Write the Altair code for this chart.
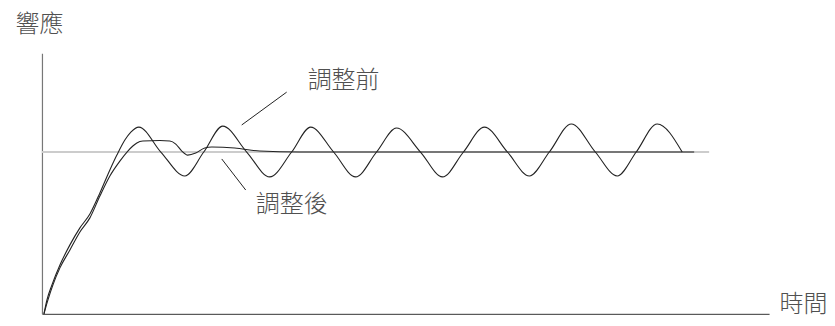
import altair as alt
import pandas as pd

# ---- data (time units, response units; setpoint = 1.0) ----
before_t = [0.02, 0.05, 0.10, 0.18, 0.28, 0.38, 0.48, 0.58, 0.68, 0.75, 0.83, 0.89, 0.97,
            1.19, 1.43, 1.62, 1.81, 2.05, 2.28, 2.50, 2.69, 2.92, 3.14, 3.35, 3.55,
            3.79, 4.01, 4.22, 4.43, 4.66, 4.88, 5.08, 5.30, 5.54, 5.76, 5.95, 6.16, 6.41]
before_y = [0.0, 0.086, 0.179, 0.302, 0.426, 0.531, 0.617, 0.747, 0.889, 0.981, 1.074, 1.123, 1.154,
            1.0, 0.852, 1.0, 1.160, 1.0, 0.846, 1.0, 1.154, 1.0, 0.846, 1.0, 1.148,
            1.0, 0.846, 1.0, 1.154, 1.0, 0.852, 1.0, 1.173, 1.0, 0.852, 1.0, 1.173, 1.0]

after_t = [0.02, 0.06, 0.11, 0.18, 0.28, 0.38, 0.48, 0.58, 0.68, 0.78, 0.86, 0.91, 0.95,
           1.01, 1.18, 1.28, 1.34, 1.40, 1.46, 1.54, 1.63, 1.70, 1.93, 2.18, 2.58, 6.53]
after_y = [0.0, 0.086, 0.179, 0.284, 0.395, 0.506, 0.593, 0.728, 0.852, 0.944, 1.006, 1.037, 1.056,
           1.068, 1.071, 1.068, 1.049, 1.006, 0.981, 0.994, 1.025, 1.031, 1.025, 1.006, 1.0, 1.0]

series_names = ["調整前", "調整後"]

setpoint_value = 1.0
setpoint_t = [0.0, 6.68]

label_text = ["調整前", "調整後"]
label_t = [2.66, 2.14]
label_y = [1.438, 0.673]

leader_t = [2.45, 1.80]
leader_y = [1.370, 0.957]
leader_t2 = [2.00, 2.04]
leader_y2 = [1.167, 0.765]

x_title = "時間"
y_title = "響應"

# ---- tables ----
curves = pd.concat([
    pd.DataFrame({"t": before_t, "r": before_y, "s": series_names[0]}),
    pd.DataFrame({"t": after_t, "r": after_y, "s": series_names[1]}),
])
setpoint = pd.DataFrame({"t": [setpoint_t[0]], "t2": [setpoint_t[1]], "r": [setpoint_value]})
labels = pd.DataFrame({"t": label_t, "r": label_y, "txt": label_text})
leaders = pd.DataFrame({"t": leader_t, "r": leader_y, "t2": leader_t2, "r2": leader_y2})

FONT = "Noto Sans CJK TC"
TXT_COLOR = "#505050"

xs = alt.Scale(domain=[0, 7.28], nice=False, zero=False)
ys = alt.Scale(domain=[0, 1.611], nice=False, zero=False)

x_axis = alt.Axis(title=x_title, labels=False, ticks=False, grid=False,
                  domainColor="#333333", domainWidth=1,
                  titleAngle=0, titleX=738, titleY=-9, titleAlign="left",
                  titleBaseline="middle", titleFont=FONT, titleFontSize=24,
                  titleFontWeight=300, titleColor=TXT_COLOR)
y_axis = alt.Axis(title=y_title, labels=False, ticks=False, grid=False,
                  domainColor="#777777", domainWidth=1.2,
                  titleAngle=0, titleX=-27, titleY=-29, titleAlign="left",
                  titleBaseline="middle", titleFont=FONT, titleFontSize=24,
                  titleFontWeight=300, titleColor=TXT_COLOR)

X = alt.X("t:Q", scale=xs, axis=x_axis)
Y = alt.Y("r:Q", scale=ys, axis=y_axis)

ref = alt.Chart(setpoint).mark_rule(color="#cccccc", strokeWidth=2).encode(
    x=X, x2="t2:Q", y=Y)

lines = alt.Chart(curves).mark_line(interpolate="monotone", strokeWidth=1.1, color="#222222").encode(
    x=X, y=Y, detail="s:N", order="t:Q")

lead = alt.Chart(leaders).mark_rule(color="#222222", strokeWidth=1).encode(
    x=X, y=Y, x2="t2:Q", y2="r2:Q")

txt = alt.Chart(labels).mark_text(font=FONT, fontSize=24, fontWeight=300, align="left",
                                  baseline="middle", color=TXT_COLOR).encode(
    x=X, y=Y, text="txt:N")

chart = alt.layer(ref, lines, lead, txt).properties(
    width=728, height=261,
    autosize=alt.AutoSizeParams(type="none"),
    padding={"left": 34, "top": 45, "right": 58, "bottom": 4},
).configure_view(stroke=None)

chart.save("out.html", embed_options={"renderer": "svg", "actions": False})
